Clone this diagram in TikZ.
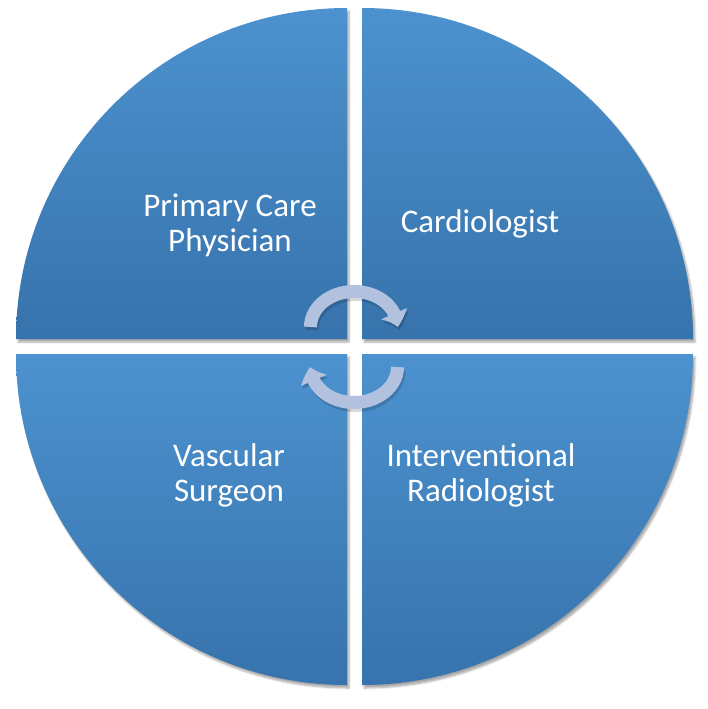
\documentclass[tikz,border=0pt]{standalone}
\usepackage{fontspec}
\setmainfont{Carlito}
\usetikzlibrary{arrows.meta,bending,shadows.blur}
\definecolor{qtop}{RGB}{76,146,207}
\definecolor{qbot}{RGB}{55,115,172}
\definecolor{arrowc}{RGB}{178,194,222}
\begin{document}
\begin{tikzpicture}[x=1pt,y=-1pt,
  quad/.style={top color=qtop,bottom color=qbot,draw=none,
    blur shadow={shadow xshift=2pt,shadow yshift=-3pt,shadow blur steps=6,shadow opacity=35}},
  lbl/.style={text=white,font=\fontsize{33}{35}\selectfont,align=center},
  cyc/.style={draw=arrowc,line width=13pt,-{Triangle[width=27pt,length=14pt,bend]}},
  cycshadow/.style={draw=black,opacity=0.15,line width=13pt,-{Triangle[width=27pt,length=14pt,bend]}}]
\useasboundingbox (0,0) rectangle (708,709);
% quadrants
\path[quad] (347,339) -- ++(-331,0) arc[start angle=180,end angle=270,radius=331] -- cycle;
\path[quad] (362,339) -- ++(0,-331) arc[start angle=270,end angle=360,radius=331] -- cycle;
\path[quad] (362,354) -- ++(331,0) arc[start angle=0,end angle=90,radius=331] -- cycle;
\path[quad] (347,354) -- ++(0,331) arc[start angle=90,end angle=180,radius=331] -- cycle;
% labels
\node[lbl] (pcp) at (230,225) {Primary Care\\Physician};
\node[lbl] (card) at (480,224) {Cardiologist};
\node[lbl] (vasc) at (229,475) {Vascular\\Surgeon};
\node[lbl] (ir) at (481,475) {Interventional\\Radiologist};
% circular arrows
\coordinate (upS) at (310.5,327);
\coordinate (upSsh) at (312,330);
\coordinate (loS) at (397.5,367);
\coordinate (loSsh) at (399,370);
\draw[cycshadow] (upSsh) arc[start angle=180,end angle=360,x radius=43.5,y radius=35.5];
\draw[cycshadow] (loSsh) arc[start angle=0,end angle=180,x radius=43.5,y radius=35.5];
\draw[cyc] (upS) arc[start angle=180,end angle=360,x radius=43.5,y radius=35.5];
\draw[cyc] (loS) arc[start angle=0,end angle=180,x radius=43.5,y radius=35.5];
\end{tikzpicture}
\end{document}
